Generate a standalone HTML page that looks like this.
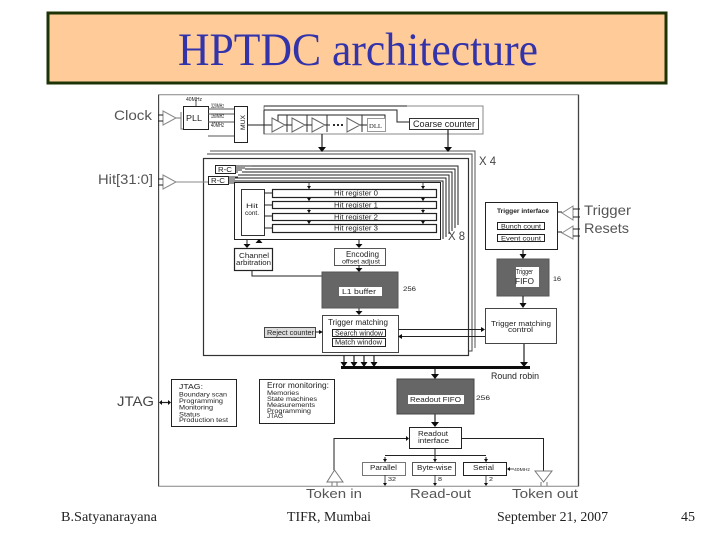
<!DOCTYPE html>
<html><head><meta charset="utf-8"><style>
html,body{margin:0;padding:0;background:#fff}
svg{display:block}
.s{font-family:"Liberation Sans",sans-serif}
.t{font-family:"Liberation Serif",serif}
</style></head><body>
<svg width="720" height="540" viewBox="0 0 720 540" xmlns="http://www.w3.org/2000/svg">
<defs>
<filter id="b" x="0" y="0" width="100%" height="100%"><feGaussianBlur stdDeviation="0.35"/></filter>
</defs>
<rect x="48" y="13" width="618" height="70" fill="#ffcc99" stroke="#1c3305" stroke-width="3"/>
<text class="t" x="178" y="65" font-size="47" fill="#3333aa" textLength="360" lengthAdjust="spacingAndGlyphs">HPTDC architecture</text>

<g filter="url(#b)" fill="none" stroke="#222" stroke-width="1">
<rect x="158.500" y="94.500" width="420" height="392" stroke="#444" stroke-width="1.300"/>
<!-- clock -->
<path d="M163 111L176 118L163 125z" stroke="#888"/>
<path d="M158 115h5M158 121h5" />
<path d="M176 118h5M181 112v17h2" stroke="#777"/>
<rect x="183.500" y="106.500" width="25" height="23"/>
<path d="M196 100v6M208 109h26M208 114h26M208 122h26M208 136h26" stroke="#555"/>
<rect x="234.500" y="106.500" width="13" height="36"/>
<path d="M247 125h25"/>
<path d="M264 106h219v28H264z" stroke="#888"/>
<path d="M264 106h143M264 110h133v12h12M278 125V115h107v7M264 134V110" stroke="#222"/>
<path d="M272 118l13 7l-13 7zM292 118l13 7l-13 7zM312 118l13 7l-13 7zM347 118l13 7l-13 7z" stroke="#666" fill="#fff"/>
<path d="M285 125h7M305 125h7M325 125h5M360 125h7"/>
<path d="M287 115v17M307 115v17M327 115v17M362 115v17" stroke="#333"/>
<path d="M333 125h2M337 125h2M341 125h2" stroke="#111" stroke-width="1.800"/>
<rect x="367.500" y="118.500" width="18" height="13" stroke="#999" fill="#fff"/>
<rect x="409.500" y="118.500" width="69" height="11" fill="#fff" stroke="#333"/>
<path d="M322 134v14M448 129v19" stroke-width="1.200"/>
<!-- X4 stack -->
<path d="M210 151H475V348" stroke="#555"/>
<path d="M207 154H472V351H468" stroke="#444"/>
<rect x="203.500" y="158.500" width="265" height="197" stroke="#333" fill="#fff" stroke-width="1.200"/>
<!-- X8 stack -->
<path d="M252 166H458V225M245 169H455V228M242 172H452V231M238 175H449V234M235 178H446V237M234 181H443V239" stroke="#222"/>
<rect x="234.500" y="182.500" width="206" height="57" fill="#fff" stroke="#222"/>
<rect x="215.500" y="165.500" width="20" height="8" fill="#fff"/>
<rect x="208.500" y="176.500" width="20" height="8" fill="#fff"/>
<path d="M176 182H208" stroke="#888"/>
<path d="M163 175L176 182L163 189z" stroke="#888"/>
<path d="M158 179h5M158 185h5"/>
<path d="M235 166h17M235 168h10M235 170h7M235 172h3M228 177h10M228 179h7M228 181h6M228 183h6" stroke="#333"/>
<rect x="241.500" y="189.500" width="23" height="46" fill="#fff" stroke="#333"/>
<path d="M264 193h8M264 205h8M264 216h8M264 228h8"/>
<rect x="272.500" y="189.500" width="164" height="8" fill="#fff" stroke-width="1.200"/>
<rect x="272.500" y="201.500" width="164" height="7" fill="#fff" stroke-width="1.200"/>
<rect x="272.500" y="213.500" width="164" height="7" fill="#fff" stroke-width="1.200"/>
<rect x="272.500" y="224.500" width="164" height="8" fill="#fff" stroke-width="1.200"/>
<path d="M309 182v7M309 197v4M309 208v5M309 220v4M423 182v7M423 197v4M423 208v5M423 220v4" stroke-width=".8"/>
<!-- encoding -->
<rect x="234.500" y="248.500" width="38" height="22" fill="#fff" stroke-width="1.200"/>
<rect x="334.500" y="248.500" width="51" height="17" fill="#fff" stroke="#555"/>
<path d="M247 239v6M259 243v-4M359 239v6M359 265v3M322 276H252v-6M359 308v4M283 332h32"/>
<rect x="322" y="272" width="76" height="36" fill="#666" stroke="#555"/>
<rect x="339" y="287" width="43" height="9" fill="#fff" stroke="none"/>
<rect x="322.500" y="315.500" width="76" height="37" fill="#fff" stroke="#444"/>
<rect x="332.500" y="329.500" width="53" height="7" fill="#fff"/>
<rect x="332.500" y="338.500" width="53" height="8" fill="#fff"/>
<rect x="264.500" y="327.500" width="51" height="10" fill="#ddd" stroke="#444"/>
<path d="M315 332h4"/>
<path d="M398.500 329.500H481M402 336.500H485"/>
<!-- right -->
<rect x="485.500" y="202.500" width="72" height="47" fill="#fff"/>
<rect x="497.500" y="222.500" width="47" height="7" fill="#fff"/>
<rect x="497.500" y="234.500" width="47" height="7" fill="#fff"/>
<path d="M557 212h5M557 232h5"/>
<path d="M562 213L573 206V220zM562 233L573 226V239z" stroke="#888" fill="#fff"/>
<path d="M573 209h7M573 217h7M573 229h7M573 236h7" />
<rect x="497" y="259" width="52" height="37" fill="#666" stroke="#555"/>
<rect x="516" y="267" width="23" height="20" fill="#fff" stroke="none"/>
<path d="M523 249v6M523 296v8M524 343v20" stroke-width="1.200"/>
<rect x="485.500" y="308.500" width="71" height="35" fill="#fff" stroke="#444"/>
<!-- bus -->
<rect x="341" y="366" width="189" height="3" fill="#111" stroke="none"/>
<path d="M344 355v8M354 355v8M364 355v8M374 355v8" stroke-width="1.200"/>
<path d="M435 369v6M435 414v9" stroke-width="1.200"/>
<rect x="397" y="379" width="77" height="35" fill="#666" stroke="#444"/>
<rect x="408" y="395" width="56" height="9" fill="#fff" stroke="none"/>
<rect x="409.500" y="427.500" width="52" height="21" fill="#fff"/>
<path d="M334 470V438.500H406M461 438.500H543.500V472" />
<path d="M385 455.500H486M385 457v5M435 448v14M486 457v5" stroke-width="1"/>
<rect x="362.500" y="462.500" width="43" height="13" fill="#fff" stroke="#777"/>
<rect x="412.500" y="462.500" width="43" height="13" fill="#fff" stroke="#555"/>
<rect x="463.500" y="462.500" width="43" height="13" fill="#fff"/>
<path d="M385 475v9M435 475v9M486 475v9M510 469h4" stroke-width=".8"/>
<path d="M334.500 470L343 482H327zM543.500 482L535 471H552z" stroke="#777" fill="#fff"/>
<path d="M332 482v4M337 482v4M541 482v4M547 482v4" stroke="#777"/>
<path d="M162 402.500h6" stroke-width="1.200"/>
<rect x="171.500" y="379.500" width="65" height="47" fill="#fff"/>
<rect x="259.500" y="379.500" width="75" height="44" fill="#fff"/>
<!-- arrowheads -->
<g fill="#111" stroke="none">
<path d="M318 147h8l-4 5zM444 147h8l-4 5zM243.500 244h7l-3.500 4zM255.500 243h7l-3.500-4zM355.500 244h7l-3.500 4zM355.500 268h7l-3.500 4zM355.500 311h7l-3.500 4zM519.500 254h7l-3.500 5zM519.500 303h7l-3.500 5zM520 362h8l-4 5zM340.500 362h7l-3.500 5zM350.500 362h7l-3.500 5zM360.500 362h7l-3.500 5zM370.500 362h7l-3.500 5zM431 374h8l-4 5zM431 422h8l-4 5z"/>
<path d="M319 330l4 2l-4 2zM481 327v5l4-2.500zM402 334v5l-4-2.500zM406 436v5l3-2.500zM383 459h4l-2 3zM433 459h4l-2 3zM484 459h4l-2 3zM383 483h4l-2 3zM433 483h4l-2 3zM484 483h4l-2 3zM510 467v4l-3-2zM162 400v5l-3-2.500zM168 400v5l3-2.500z"/>
<path d="M307 186h4l-2 3zM307 198h4l-2 3zM307 210h4l-2 3zM307 221h4l-2 3zM421 186h4l-2 3zM421 198h4l-2 3zM421 210h4l-2 3zM421 221h4l-2 3z"/>
</g>
</g>

<g filter="url(#b)" class="s" fill="#222">
<text x="114" y="120" font-size="14" fill="#555" textLength="38" lengthAdjust="spacingAndGlyphs">Clock</text>
<text x="98" y="184" font-size="14" fill="#555" textLength="55" lengthAdjust="spacingAndGlyphs">Hit[31:0]</text>
<text x="117" y="406" font-size="14" fill="#444" textLength="37" lengthAdjust="spacingAndGlyphs">JTAG</text>
<text x="584" y="215" font-size="14" fill="#555" textLength="47" lengthAdjust="spacingAndGlyphs">Trigger</text>
<text x="584" y="233" font-size="14" fill="#555" textLength="45" lengthAdjust="spacingAndGlyphs">Resets</text>
<text x="479" y="165" font-size="12" fill="#444" textLength="17" lengthAdjust="spacingAndGlyphs">X 4</text>
<text x="448" y="240" font-size="12" fill="#444" textLength="17" lengthAdjust="spacingAndGlyphs">X 8</text>
<text x="306" y="498" font-size="13" fill="#555" textLength="56" lengthAdjust="spacingAndGlyphs">Token in</text>
<text x="410" y="498" font-size="13" fill="#555" textLength="61" lengthAdjust="spacingAndGlyphs">Read-out</text>
<text x="512" y="498" font-size="13" fill="#555" textLength="66" lengthAdjust="spacingAndGlyphs">Token out</text>
<text x="491" y="379" font-size="9" textLength="48" lengthAdjust="spacingAndGlyphs">Round robin</text>
<text x="186" y="101" font-size="5" textLength="16" lengthAdjust="spacingAndGlyphs">40MHz</text>
<text x="211" y="108" font-size="6" textLength="13" lengthAdjust="spacingAndGlyphs">320MHz</text>
<text x="211" y="118" font-size="6" textLength="13" lengthAdjust="spacingAndGlyphs">160MHz</text>
<text x="211" y="127" font-size="6" textLength="13" lengthAdjust="spacingAndGlyphs">40MHz</text>
<text x="186" y="121" font-size="8" textLength="16" lengthAdjust="spacingAndGlyphs">PLL</text>
<text transform="translate(245 130) rotate(-90)" font-size="6" textLength="15" lengthAdjust="spacingAndGlyphs">MUX</text>
<text x="369" y="128" font-size="6" textLength="13" class="t" lengthAdjust="spacingAndGlyphs">DLL</text>
<text x="413" y="127" font-size="9" textLength="62" lengthAdjust="spacingAndGlyphs">Coarse counter</text>
<text x="218" y="172" font-size="7" textLength="14" lengthAdjust="spacingAndGlyphs">R-C</text>
<text x="211" y="183" font-size="7" textLength="14" lengthAdjust="spacingAndGlyphs">R-C</text>
<text x="246" y="208" font-size="6.500" textLength="12" lengthAdjust="spacingAndGlyphs">Hit</text>
<text x="245" y="215" font-size="6.500" textLength="14" lengthAdjust="spacingAndGlyphs">cont.</text>
<text x="334" y="195.500" font-size="7" textLength="44" lengthAdjust="spacingAndGlyphs">Hit register 0</text>
<text x="334" y="207.500" font-size="7" textLength="44" lengthAdjust="spacingAndGlyphs">Hit register 1</text>
<text x="334" y="219.500" font-size="7" textLength="44" lengthAdjust="spacingAndGlyphs">Hit register 2</text>
<text x="334" y="230.500" font-size="7" textLength="44" lengthAdjust="spacingAndGlyphs">Hit register 3</text>
<text x="239" y="258" font-size="7" textLength="30" lengthAdjust="spacingAndGlyphs">Channel</text>
<text x="236" y="265" font-size="7" textLength="35" lengthAdjust="spacingAndGlyphs">arbitration</text>
<text x="346" y="257" font-size="8" textLength="33" lengthAdjust="spacingAndGlyphs">Encoding</text>
<text x="342" y="263.500" font-size="6.500" textLength="38" lengthAdjust="spacingAndGlyphs">offset adjust</text>
<text x="342" y="294" font-size="7.500" textLength="34" lengthAdjust="spacingAndGlyphs">L1 buffer</text>
<text x="403" y="291" font-size="6.500" textLength="13" lengthAdjust="spacingAndGlyphs">256</text>
<text x="328" y="325" font-size="8" textLength="60" lengthAdjust="spacingAndGlyphs">Trigger matching</text>
<text x="335" y="335.500" font-size="7" textLength="48" lengthAdjust="spacingAndGlyphs">Search window</text>
<text x="335" y="344.500" font-size="7" textLength="47" lengthAdjust="spacingAndGlyphs">Match window</text>
<text x="267" y="335" font-size="7" textLength="47" lengthAdjust="spacingAndGlyphs">Reject counter</text>
<text x="497" y="213" font-size="6.500" textLength="52" font-weight="bold" lengthAdjust="spacingAndGlyphs">Trigger interface</text>
<text x="501" y="228.500" font-size="6.500" textLength="40" lengthAdjust="spacingAndGlyphs">Bunch count</text>
<text x="501" y="240.500" font-size="6.500" textLength="40" lengthAdjust="spacingAndGlyphs">Event count</text>
<text x="516" y="274" font-size="7" textLength="17" lengthAdjust="spacingAndGlyphs">Trigger</text>
<text x="515" y="284" font-size="8" textLength="19" lengthAdjust="spacingAndGlyphs">FIFO</text>
<text x="553" y="281" font-size="6.500" textLength="8" lengthAdjust="spacingAndGlyphs">16</text>
<text x="491" y="326" font-size="7.500" textLength="60" lengthAdjust="spacingAndGlyphs">Trigger matching</text>
<text x="508" y="332" font-size="7.500" textLength="25" lengthAdjust="spacingAndGlyphs">control</text>
<text x="410" y="402" font-size="7.500" textLength="51" lengthAdjust="spacingAndGlyphs">Readout FIFO</text>
<text x="476" y="400" font-size="6.500" textLength="14" lengthAdjust="spacingAndGlyphs">256</text>
<text x="418" y="436" font-size="7" textLength="30" lengthAdjust="spacingAndGlyphs">Readout</text>
<text x="418" y="443" font-size="7" textLength="31" lengthAdjust="spacingAndGlyphs">interface</text>
<text x="370" y="470" font-size="7" textLength="27" lengthAdjust="spacingAndGlyphs">Parallel</text>
<text x="417" y="470" font-size="7" textLength="35" lengthAdjust="spacingAndGlyphs">Byte-wise</text>
<text x="473" y="470" font-size="7" textLength="21" lengthAdjust="spacingAndGlyphs">Serial</text>
<text x="514" y="471" font-size="4.500" textLength="16" lengthAdjust="spacingAndGlyphs">40MHz</text>
<text x="388" y="481" font-size="5" textLength="8" lengthAdjust="spacingAndGlyphs">32</text>
<text x="438" y="481" font-size="5" textLength="4" lengthAdjust="spacingAndGlyphs">8</text>
<text x="489" y="481" font-size="5" textLength="4" lengthAdjust="spacingAndGlyphs">2</text>
<text x="179" y="389" font-size="7.500" textLength="24" lengthAdjust="spacingAndGlyphs">JTAG:</text>
<text x="179" y="396.500" font-size="6.500" textLength="48" lengthAdjust="spacingAndGlyphs">Boundary scan</text>
<text x="179" y="403" font-size="6.500" textLength="44" lengthAdjust="spacingAndGlyphs">Programming</text>
<text x="179" y="409.500" font-size="6.500" textLength="34" lengthAdjust="spacingAndGlyphs">Monitoring</text>
<text x="179" y="416.500" font-size="6.500" textLength="21" lengthAdjust="spacingAndGlyphs">Status</text>
<text x="179" y="422" font-size="6.500" textLength="49" lengthAdjust="spacingAndGlyphs">Production test</text>
<text x="267" y="388" font-size="8" textLength="62" lengthAdjust="spacingAndGlyphs">Error monitoring:</text>
<text x="267" y="395" font-size="6.500" textLength="32" lengthAdjust="spacingAndGlyphs">Memories</text>
<text x="267" y="401" font-size="6.500" textLength="50" lengthAdjust="spacingAndGlyphs">State machines</text>
<text x="267" y="407" font-size="6.500" textLength="48" lengthAdjust="spacingAndGlyphs">Measurements</text>
<text x="267" y="413" font-size="6.500" textLength="44" lengthAdjust="spacingAndGlyphs">Programming</text>
<text x="267" y="418" font-size="6" textLength="16" lengthAdjust="spacingAndGlyphs">JTAG</text>
</g>

<g class="t" font-size="14" fill="#222">
<text x="61" y="521" textLength="96" lengthAdjust="spacingAndGlyphs">B.Satyanarayana</text>
<text x="287" y="521" textLength="84" lengthAdjust="spacingAndGlyphs">TIFR, Mumbai</text>
<text x="497" y="521" textLength="111" lengthAdjust="spacingAndGlyphs">September 21, 2007</text>
<text x="681" y="521" textLength="14" lengthAdjust="spacingAndGlyphs">45</text>
</g>
</svg>
</body></html>
